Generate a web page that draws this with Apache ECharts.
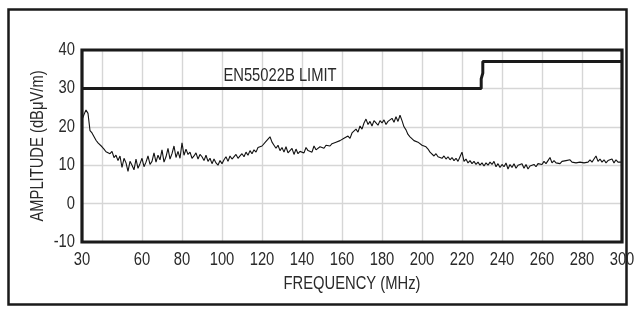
<!DOCTYPE html>
<html>
<head>
<meta charset="utf-8">
<script src="https://cdn.jsdelivr.net/npm/echarts@6/dist/echarts.min.js"></script>
<style>
html,body{margin:0;padding:0;background:#fff;}
#chart{width:634px;height:312px;}
</style>
</head>
<body>
<div id="chart"></div>
<script>
// Emission spectrum, 1 MHz steps starting at 30 MHz
var freqStart = 30;
var freqStep = 1;
var amplitude = [
21.8,23.2,24.4,23.5,19.0,18.4,18.8,16.5,15.8,15.5,   // 30-39
14.8,14.2,13.5,13.8,13.0,13.6,12.0,12.6,11.2,12.4,   // 40-49
9.4,11.8,10.6,8.4,11.0,10.0,8.8,11.6,9.2,10.4,       // 50-59
11.8,9.6,10.8,12.4,10.2,11.0,13.2,10.8,12.6,11.4,    // 60-69
14.0,10.8,12.2,14.4,11.6,13.0,15.0,12.0,13.6,11.8,   // 70-79
15.8,12.6,14.2,12.8,13.4,11.8,12.4,13.2,11.6,12.8,   // 80-89
12.2,11.2,12.6,11.0,11.8,10.4,11.6,10.6,10.0,11.2,   // 90-99
10.4,11.4,12.2,11.0,12.4,11.6,11.2,12.8,11.8,12.4,   // 100-109
13.0,12.2,13.4,12.6,13.8,13.0,14.0,13.4,14.6,14.2,   // 110-119
15.0,15.4,16.2,16.6,17.4,16.0,15.2,14.4,15.2,13.8,   // 120-129
14.6,13.4,14.8,13.2,13.8,14.4,12.8,14.2,13.0,13.6,   // 130-139
14.0,13.2,14.6,13.8,14.2,13.4,15.0,14.0,14.4,14.8,   // 140-149
15.0,14.4,15.2,14.8,15.0,15.6,15.2,16.0,15.6,16.4,   // 150-159
16.0,17.0,16.6,17.6,17.0,18.4,18.0,19.4,18.6,20.2,   // 160-169
19.4,21.0,22.0,20.6,21.4,20.2,21.6,21.0,20.4,21.6,   // 170-179
21.0,21.8,20.6,21.4,21.0,22.2,21.2,22.6,21.4,23.0,   // 180-189
21.6,20.0,19.2,18.0,17.4,17.0,16.4,16.8,16.0,15.8,   // 190-199
15.2,15.6,14.8,14.2,13.4,13.0,12.4,13.0,12.2,12.6,   // 200-209
11.8,12.4,11.6,12.2,11.4,12.0,11.2,11.8,11.0,12.2,   // 210-219
13.4,11.0,11.6,10.6,11.2,10.4,11.0,10.2,10.8,10.0,   // 220-229
10.6,9.8,10.6,10.0,10.8,10.2,11.0,9.6,10.4,9.4,      // 230-239
10.2,9.6,10.6,9.0,10.2,9.4,10.4,9.2,10.0,9.6,        // 240-249
10.4,9.2,10.2,9.0,9.8,9.4,10.2,9.6,10.4,10.8,        // 250-259
10.2,11.0,10.4,11.2,12.0,10.6,11.2,10.6,11.0,10.4,   // 260-269
11.0,10.6,11.2,10.8,11.4,10.8,11.2,10.6,11.0,10.8,   // 270-279
11.2,10.6,11.0,10.8,11.4,10.8,11.6,12.4,11.0,11.6,   // 280-289
10.8,11.4,10.6,11.2,10.8,11.6,10.6,11.4,10.8,11.2,   // 290-299
10.8                                                 // 300
];
// EN55022 class B limit
var limitFreq = [30, 229.6, 229.6, 230.4, 230.4, 300];
var limitVal  = [30, 30, 32.5, 34, 37, 37];
var limitLabel = 'EN55022B LIMIT';
var limitLabelAt = [129, 33.2];
// Axes
var xMin = 30, xMax = 300;
var xTickLabels = [30, 60, 80, 100, 120, 140, 160, 180, 200, 220, 240, 260, 280, 300];
var yTickLabels = [-10, 0, 10, 20, 30, 40];
var xTitle = 'FREQUENCY (MHz)';
var yTitle = 'AMPLITUDE (dBμV/m)';

var FONT = '18px "Liberation Sans", Arial, sans-serif';
var TXT = '#2a2a2a';
var SQ = 0.82; // condensed look

var specData = amplitude.map(function (v, i) { return [freqStart + i * freqStep, v]; });
var limitData = limitFreq.map(function (f, i) { return [f, limitVal[i]]; });

var chart = echarts.init(document.getElementById('chart'), null, {renderer: 'canvas'});
chart.setOption({
  animation: false,
  backgroundColor: '#fff',
  grid: {left: 82, right: 12, top: 50, bottom: 70, show: false},
  xAxis: {
    type: 'value', min: xMin, max: xMax, interval: 10,
    axisLine: {show: false}, axisTick: {show: false}, axisLabel: {show: false},
    splitLine: {show: true, lineStyle: {color: ['transparent', '#d6d6d6'], width: 1.4}}
  },
  yAxis: {
    type: 'value', min: yTickLabels[0], max: yTickLabels[yTickLabels.length - 1], interval: 10,
    axisLine: {show: false}, axisTick: {show: false}, axisLabel: {show: false},
    splitLine: {show: true, lineStyle: {color: '#d6d6d6', width: 1.4}}
  },
  series: [{
    type: 'line', data: specData, symbol: 'none', z: 3,
    lineStyle: {color: '#111', width: 1.1}
  }, {
    type: 'line', data: limitData, symbol: 'none', z: 4,
    lineStyle: {color: '#1a1a1a', width: 3}
  }]
});

function px(x, y) { return chart.convertToPixel({gridIndex: 0}, [x, y]); }
var tl = px(xMin, yTickLabels[yTickLabels.length - 1]);
var br = px(xMax, yTickLabels[0]);
var g = [];
g.push({type: 'rect', z: 100, silent: true,
  shape: {x: 8.5, y: 9.5, width: 618, height: 295},
  style: {fill: 'none', stroke: '#1a1a1a', lineWidth: 2.5}});
g.push({type: 'rect', z: 100, silent: true,
  shape: {x: tl[0], y: tl[1], width: br[0] - tl[0], height: br[1] - tl[1]},
  style: {fill: 'none', stroke: '#1a1a1a', lineWidth: 3.2}});
xTickLabels.forEach(function (v) {
  var p = px(v, yTickLabels[0]);
  g.push({type: 'text', z: 100, silent: true, x: p[0], y: p[1] + 18, scaleX: SQ,
    style: {text: String(v), font: FONT, fill: TXT, align: 'center', verticalAlign: 'middle'}});
});
yTickLabels.forEach(function (v) {
  var p = px(xMin, v);
  g.push({type: 'text', z: 100, silent: true, x: p[0] - 7, y: p[1], scaleX: SQ,
    style: {text: String(v), font: FONT, fill: TXT, align: 'right', verticalAlign: 'middle'}});
});
g.push({type: 'text', z: 100, silent: true, x: (tl[0] + br[0]) / 2, y: br[1] + 42, scaleX: SQ,
  style: {text: xTitle, font: FONT, fill: TXT, align: 'center', verticalAlign: 'middle'}});
g.push({type: 'text', z: 100, silent: true, x: tl[0] - 44, y: (tl[1] + br[1]) / 2, scaleX: SQ, rotation: Math.PI / 2,
  style: {text: yTitle, font: FONT, fill: TXT, align: 'center', verticalAlign: 'middle'}});
var lp = px(limitLabelAt[0], limitLabelAt[1]);
g.push({type: 'text', z: 100, silent: true, x: lp[0], y: lp[1], scaleX: SQ,
  style: {text: limitLabel, font: FONT, fill: TXT, align: 'center', verticalAlign: 'middle'}});
chart.setOption({graphic: g});
</script>
</body>
</html>
